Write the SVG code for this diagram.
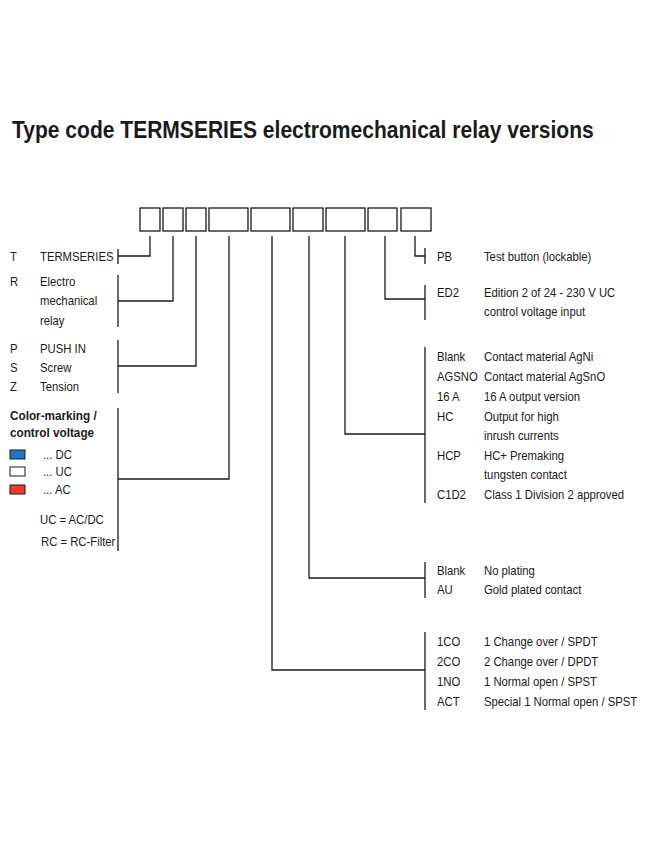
<svg xmlns="http://www.w3.org/2000/svg" width="645" height="860" viewBox="0 0 645 860">
<style>
text{font-family:"Liberation Sans",Arial,sans-serif;font-size:13px;fill:#1a1a1a}
.t{font-size:23px;font-weight:bold}
.b{font-weight:bold;font-size:13.5px}
.box{fill:#fff;stroke:#1a1a1a;stroke-width:1.3}
.c{fill:none;stroke:#1a1a1a;stroke-width:1.3}
</style>
<rect width="645" height="860" fill="#fff"/>
<g transform="scale(0.915,1)"><text class="t" x="13.1" y="138">Type code TERMSERIES electromechanical relay versions</text></g>
<g id="boxes">
<rect class="box" x="140" y="208" width="20" height="23"/>
<rect class="box" x="163" y="208" width="20" height="23"/>
<rect class="box" x="186" y="208" width="20" height="23"/>
<rect class="box" x="209" y="208" width="39" height="23"/>
<rect class="box" x="251" y="208" width="39" height="23"/>
<rect class="box" x="293" y="208" width="30" height="23"/>
<rect class="box" x="326" y="208" width="39" height="23"/>
<rect class="box" x="368" y="208" width="29" height="23"/>
<rect class="box" x="401" y="208" width="30" height="23"/>
</g>
<g id="connectors">
<path class="c" d="M150 236V256H118M118 249V264"/>
<path class="c" d="M173 236V301H118M118 275V327"/>
<path class="c" d="M196 236V366H118M118 340V393"/>
<path class="c" d="M229 236V479H118M118 408V551"/>
<path class="c" d="M272 236V670H425M425 632V710"/>
<path class="c" d="M309 236V578H425M425 562V598"/>
<path class="c" d="M345 236V434H425M425 347V503"/>
<path class="c" d="M385 236V299H425M425 285V320"/>
<path class="c" d="M415 236V256H425M425 248V264"/>
</g>
<g id="swatches">
<rect x="10" y="450" width="15" height="9" fill="#1f77c4" stroke="#1a1a1a"/>
<rect x="10" y="467" width="15" height="9" fill="#fff" stroke="#1a1a1a"/>
<rect x="10" y="485" width="15" height="9" fill="#ef3b2c" stroke="#1a1a1a"/>
</g>
<g transform="scale(0.87,1)">
<g id="left1"><text x="11.5" y="261">T</text><text x="46" y="261">TERMSERIES</text></g>
<g id="left2"><text x="11.5" y="286">R</text><text x="46" y="286">Electro</text><text x="46" y="305">mechanical</text><text x="46" y="325">relay</text></g>
<g id="left3"><text x="11.5" y="353">P</text><text x="46" y="353">PUSH IN</text><text x="11.5" y="372">S</text><text x="46" y="372">Screw</text><text x="11.5" y="391">Z</text><text x="46" y="391">Tension</text></g>
<g id="left4">
<text class="b" x="11.5" y="420">Color-marking /</text><text class="b" x="11.5" y="437">control voltage</text>
<text x="49.4" y="459">... DC</text><text x="49.4" y="476">... UC</text><text x="49.4" y="494">... AC</text>
<text x="46" y="524">UC = AC/DC</text><text x="47.1" y="546">RC = RC-Filter</text>
</g>
<g id="right1"><text x="502.3" y="261">PB</text><text x="556.3" y="261">Test button (lockable)</text></g>
<g id="right2"><text x="502.3" y="297">ED2</text><text x="556.3" y="297">Edition 2 of 24 - 230 V UC</text><text x="556.3" y="316">control voltage input</text></g>
<g id="right3">
<text x="502.3" y="361">Blank</text><text x="556.3" y="361">Contact material AgNi</text>
<text x="502.3" y="381">AGSNO</text><text x="556.3" y="381">Contact material AgSnO</text>
<text x="502.3" y="401">16 A</text><text x="556.3" y="401">16 A output version</text>
<text x="502.3" y="421">HC</text><text x="556.3" y="421">Output for high</text><text x="556.3" y="440">inrush currents</text>
<text x="502.3" y="460">HCP</text><text x="556.3" y="460">HC+ Premaking</text><text x="556.3" y="479">tungsten contact</text>
<text x="502.3" y="499">C1D2</text><text x="556.3" y="499">Class 1 Division 2 approved</text>
</g>
<g id="right4"><text x="502.3" y="575">Blank</text><text x="556.3" y="575">No plating</text><text x="502.3" y="594">AU</text><text x="556.3" y="594">Gold plated contact</text></g>
<g id="right5">
<text x="502.3" y="646">1CO</text><text x="556.3" y="646">1 Change over / SPDT</text>
<text x="502.3" y="666">2CO</text><text x="556.3" y="666">2 Change over / DPDT</text>
<text x="502.3" y="686">1NO</text><text x="556.3" y="686">1 Normal open / SPST</text>
<text x="502.3" y="706">ACT</text><text x="556.3" y="706">Special 1 Normal open / SPST</text>
</g>
</g>
</svg>
